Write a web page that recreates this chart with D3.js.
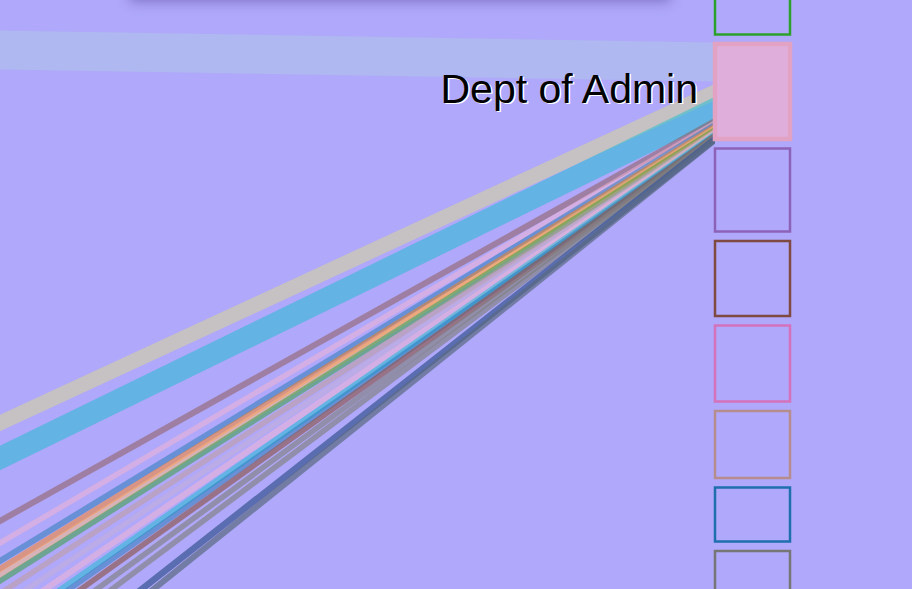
<html><head>
  <script src="https://d3js.org/d3.v7.min.js"></script>
  <style>
    body {
      margin: 0;
      background: #b0a8fa;
      overflow: hidden;
    }
    #card {
      position: absolute;
      left: 130px;
      top: -40px;
      width: 540px;
      height: 40px;
      background: #b0a8fa;
      box-shadow: 0 1px 12px rgba(40, 20, 110, 0.4);
    }
    svg {
      position: absolute;
      left: 0;
      top: 0;
    }
    text {
      font-family: 'Liberation Sans', Arial, Helvetica, sans-serif;
    }
  </style>
</head>
<body>
  <div id="card"></div>
  <script>
    // nodes on the right column, top to bottom
    const nodeValues = [70, 95, 83, 75, 76, 67, 54, 60]
    const nodeColors = ["#2ca02c", "#e1a2c3", "#8c62b8", "#7e4a42", "#d472bb", "#b48d8c", "#1f6fae", "#767676"]
    const activeNode = 1
    const activeLabel = "Dept of Admin"

    // links flowing into the active node
    const linkColors   = ["#aec7e8", "#dbdb8d", "#17becf", "#8c564b", "#f7b6d2", "#1f77b4", "#ff7f0e", "#ffbb78", "#2ca02c",
                          "#c49c94", "#c5b0d5", "#f7b6d2", "#17becf", "#1f77b4", "#8c564b", "#7f7f7f", "#7f7f7f", "#3e5a98", "#5a6a80"]
    const linkValues   = [39, 15, 22, 6, 5.5, 6, 6, 5.5, 5.5, 5.5, 5.5, 6, 5.5, 5.5, 5.5, 5.5, 5.5, 6.5, 6]
    const linkSourceY  = [50, 423, 458, 521, 543, 561, 569, 575, 581, 593.5, 607, 620, 631.5, 638, 647, 660, 673, 700.5, 712]
    const linkTargetY  = [62, 92, 109, 121, 123, 125, 127, 128, 130, 131, 132, 133, 134, 135, 136, 137, 138, 139, 140]
    const linkOpacity  = [0.5, 0.5, 0.5, 0.5, 0.5, 0.5, 0.5, 0.5, 0.5, 0.5, 0.5, 0.5, 0.5, 0.5, 0.65, 0.65, 0.65, 0.75, 0.7]

    const width = 912
    const height = 589

    const svg = d3.select("body")
                  .append("svg")
                  .attr("width", width)
                  .attr("height", height)

    // 0 = left edge of view, 1 = node column
    const xScale = d3.scaleLinear().domain([0, 1]).range([0, 715])
    const yScale = d3.scaleLinear().domain([0, height]).range([0, height])
    const nodeWidth = 75
    const nodePadding = 9.5

    // stack nodes so the active one starts at 44
    let nodes = nodeValues.map((v, i) => ({ value: v, color: nodeColors[i] }))
    let y = 44 - nodeValues.slice(0, activeNode).reduce((a, v) => a + v + nodePadding, 0)
    nodes.forEach(n => {
      n.y0 = y
      n.y1 = y + n.value
      y = n.y1 + nodePadding
    })

    let links = linkValues.map((v, i) => ({
      value: v,
      color: linkColors[i],
      opacity: linkOpacity[i],
      sy: linkSourceY[i],
      ty: linkTargetY[i]
    }))

    svg.append("clipPath")
       .attr("id", "linkClip")
       .append("rect")
       .attr("x", 0)
       .attr("y", 0)
       .attr("width", xScale(1))
       .attr("height", height)

    const line = d3.line()
                   .x(p => xScale(p[0]))
                   .y(p => yScale(p[1]))

    // straight segments, extended a bit past both ends and clipped
    svg.append("g")
       .attr("clip-path", "url(#linkClip)")
       .selectAll("path")
       .data(links)
       .join("path")
       .attr("d", d => {
         const at = t => [t, d.sy + (d.ty - d.sy) * t]
         return line([at(-0.05), at(1.05)])
       })
       .attr("fill", "none")
       .attr("stroke", d => d.color)
       .attr("stroke-opacity", d => d.opacity)
       .attr("stroke-width", d => d.value)

    svg.append("g")
       .selectAll("rect")
       .data(nodes)
       .join("rect")
       .attr("x", xScale(1))
       .attr("y", d => yScale(d.y0))
       .attr("width", nodeWidth)
       .attr("height", d => yScale(d.y1) - yScale(d.y0))
       .attr("fill", (d, i) => i == activeNode ? "#dfaedb" : "none")
       .attr("stroke", d => d.color)
       .attr("stroke-width", (d, i) => i == activeNode ? 4.5 : 2.5)

    const act = nodes[activeNode]
    svg.append("text")
       .attr("x", xScale(1) - 17)
       .attr("y", yScale((act.y0 + act.y1) / 2))
       .attr("dy", "0.27em")
       .attr("text-anchor", "end")
       .style("font-size", "41px")
       .style("fill", "#000")
       .style("text-shadow", "1.5px 1.5px 0 #fff")
       .text(activeLabel)
  </script>
</body></html>
